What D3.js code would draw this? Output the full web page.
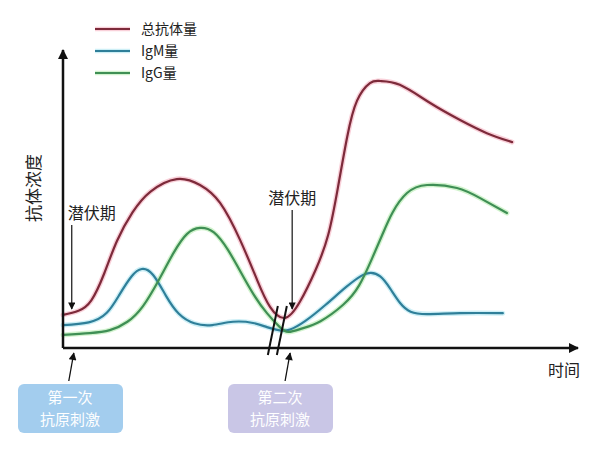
<!DOCTYPE html>
<html>
<head>
<meta charset="utf-8">
<script src="https://cdn.jsdelivr.net/npm/d3@7"></script>
<style>
  body { margin: 0; background: #fff; }
  svg { display: block; font-family: "Noto Sans CJK SC", "Noto Sans", sans-serif; }
</style>
</head>
<body>
<svg id="chart" width="601" height="460"></svg>
<script>
// series names / legend
var seriesNames = ['总抗体量', 'IgM量', 'IgG量'];
var seriesColors = ['#7d2a3a', '#2f7f99', '#3f8f55'];
var glowColors = ['#f4a9ba', '#a4e2ef', '#ade9a6'];

// [time, concentration] (time 0-100, conc 0-100)
var totalData = [
    [0, 11.1], [3.0, 12.5], [5.5, 16.0], [8.0, 25.0], [10.5, 36.0], [13.5, 45.5],
    [17.0, 52.5], [22.1, 56.7], [26.6, 54.7], [30.5, 48.7], [34.4, 36.2], [37.7, 22.8],
    [40.2, 13.8], [43.1, 10.1], [46.0, 15.5], [49.0, 26.0], [51.5, 38.0], [53.4, 54.0],
    [55.2, 71.0], [57.1, 83.0], [59.6, 88.9], [61.6, 89.6], [65.4, 88.3], [71.3, 82.2],
    [77.1, 76.5], [82.3, 72.1], [87.2, 69.1]
];
var igmData = [
    [0, 7.7], [5.0, 8.6], [8.5, 11.8], [11.0, 18.0], [13.3, 24.0], [15.3, 26.5],
    [17.5, 24.5], [20.0, 17.5], [22.5, 11.5], [25.5, 8.3], [29.0, 7.7], [33.0, 8.8],
    [36.9, 8.4], [39.6, 7.0], [42.1, 5.9], [44.1, 6.2], [47.0, 9.0], [51.0, 14.5],
    [55.0, 20.5], [58.0, 24.3], [59.8, 25.2], [61.6, 24.0], [63.5, 20.0], [65.5, 15.0],
    [67.5, 12.2], [70.7, 11.4], [77.1, 11.7], [85.4, 11.7]
];
var iggData = [
    [0, 4.4], [5.2, 5.0], [9.1, 6.0], [12.5, 8.8], [15.5, 14.0], [18.5, 22.5],
    [21.5, 32.0], [24.1, 38.3], [26.6, 40.3], [29.3, 38.8], [32.0, 33.0], [34.5, 25.5],
    [37.0, 18.0], [39.6, 11.7], [42.1, 7.0], [43.8, 5.4], [46.5, 6.6], [50.0, 9.0],
    [54.4, 14.5], [57.5, 21.0], [60.0, 30.0], [62.0, 38.0], [64.0, 45.5], [66.8, 52.0],
    [70.7, 54.7], [76.5, 53.7], [81.0, 50.3], [86.2, 45.3]
];
var allSeries = [totalData, igmData, iggData];

// annotations (time positions)
var latentTimes = [1.7, 44.5];
var latentLabel = '潜伏期';
var stimulusTimes = [1.9, 43.9];
var stimulusLabels = [['第一次', '抗原刺激'], ['第二次', '抗原刺激']];
var stimulusFills = ['#a3cdee', '#c9c6e6'];
var breakTime = 42.3;
var yLabel = '抗体浓度';
var xLabel = '时间';

var svg = d3.select('#chart');
var x = d3.scaleLinear().domain([0, 100]).range([63, 578]);
var y = d3.scaleLinear().domain([0, 100]).range([348, 50]);

var defs = svg.append('defs');
defs.append('marker')
    .attr('id', 'axisHead')
    .attr('viewBox', '0 0 10 10')
    .attr('refX', 9).attr('refY', 5)
    .attr('markerWidth', 5).attr('markerHeight', 4)
    .attr('markerUnits', 'strokeWidth')
    .attr('orient', 'auto')
    .append('path').attr('d', 'M0,0L10,5L0,10z').attr('fill', '#111');
defs.append('marker')
    .attr('id', 'thinHead')
    .attr('viewBox', '0 0 10 10')
    .attr('refX', 9).attr('refY', 5)
    .attr('markerWidth', 7).attr('markerHeight', 6)
    .attr('markerUnits', 'strokeWidth')
    .attr('orient', 'auto')
    .append('path').attr('d', 'M0,0L10,5L0,10z').attr('fill', '#111');

var line = d3.line()
    .x(function(d) { return x(d[0]); })
    .y(function(d) { return y(d[1]); })
    .curve(d3.curveNatural);

// curves: soft glow under a dark core
allSeries.forEach(function(data, i) {
    svg.append('path')
        .datum(data)
        .attr('d', line)
        .attr('fill', 'none')
        .attr('stroke', glowColors[i])
        .attr('stroke-width', 5)
        .attr('stroke-opacity', 0.55)
        .attr('stroke-linecap', 'round');
});
allSeries.forEach(function(data, i) {
    svg.append('path')
        .datum(data)
        .attr('d', line)
        .attr('fill', 'none')
        .attr('stroke', seriesColors[i])
        .attr('stroke-width', 2.2)
        .attr('stroke-linecap', 'round');
});

// axes
svg.append('line')
    .attr('x1', x(0)).attr('y1', y(0))
    .attr('x2', x(0)).attr('y2', y.range()[1])
    .attr('stroke', '#111').attr('stroke-width', 2.5)
    .attr('marker-end', 'url(#axisHead)');
svg.append('line')
    .attr('x1', x(0)).attr('y1', y(0))
    .attr('x2', x.range()[1]).attr('y2', y(0))
    .attr('stroke', '#111').attr('stroke-width', 2.5)
    .attr('marker-end', 'url(#axisHead)');

// break marks on the time axis
[0, 9].forEach(function(dx) {
    svg.append('line')
        .attr('x1', x(breakTime) - 3 + dx).attr('y1', y(0) - 42)
        .attr('x2', x(breakTime) - 13 + dx).attr('y2', y(0) + 7)
        .attr('stroke', '#111').attr('stroke-width', 2);
});

svg.append('text')
    .attr('transform', 'translate(40,' + 188 + ') rotate(-90)')
    .attr('text-anchor', 'middle')
    .attr('font-size', 17)
    .attr('fill', '#222')
    .text(yLabel);

svg.append('text')
    .attr('x', 564).attr('y', 376)
    .attr('text-anchor', 'middle')
    .attr('font-size', 16)
    .attr('fill', '#222')
    .text(xLabel);

// latent period labels + arrows
var latentTop = [225, 210];
var latentShift = [20, 0];
latentTimes.forEach(function(t, i) {
    svg.append('text')
        .attr('x', x(t) + latentShift[i])
        .attr('y', latentTop[i] - 6)
        .attr('text-anchor', 'middle')
        .attr('font-size', 16)
        .attr('fill', '#222')
        .text(latentLabel);
    svg.append('line')
        .attr('x1', x(t)).attr('y1', latentTop[i])
        .attr('x2', x(t)).attr('y2', 309)
        .attr('stroke', '#111').attr('stroke-width', 1.2)
        .attr('marker-end', 'url(#thinHead)');
});

// antigen stimulus arrows and boxes
var boxCenters = [70, 280];
stimulusTimes.forEach(function(t, i) {
    svg.append('line')
        .attr('x1', x(t) - 4).attr('y1', 381)
        .attr('x2', x(t) + 1).attr('y2', 353)
        .attr('stroke', '#111').attr('stroke-width', 1.3)
        .attr('marker-end', 'url(#thinHead)');
    svg.append('rect')
        .attr('x', boxCenters[i] - 52).attr('y', 384)
        .attr('width', 105).attr('height', 49)
        .attr('rx', 6).attr('ry', 6)
        .attr('fill', stimulusFills[i]);
    stimulusLabels[i].forEach(function(s, j) {
        svg.append('text')
            .attr('x', boxCenters[i]).attr('y', 403 + j * 22)
            .attr('text-anchor', 'middle')
            .attr('font-size', 15)
            .attr('fill', '#fff')
            .text(s);
    });
});

// legend
var legendY = [29, 51, 73];
seriesNames.forEach(function(name, i) {
    svg.append('line')
        .attr('x1', 95).attr('x2', 130)
        .attr('y1', legendY[i]).attr('y2', legendY[i])
        .attr('stroke', glowColors[i]).attr('stroke-width', 4.5).attr('stroke-opacity', 0.55);
    svg.append('line')
        .attr('x1', 95).attr('x2', 130)
        .attr('y1', legendY[i]).attr('y2', legendY[i])
        .attr('stroke', seriesColors[i]).attr('stroke-width', 2);
    svg.append('text')
        .attr('x', 141).attr('y', legendY[i] + 5)
        .attr('font-size', 14)
        .attr('fill', '#222')
        .text(name);
});
</script>
</body>
</html>
